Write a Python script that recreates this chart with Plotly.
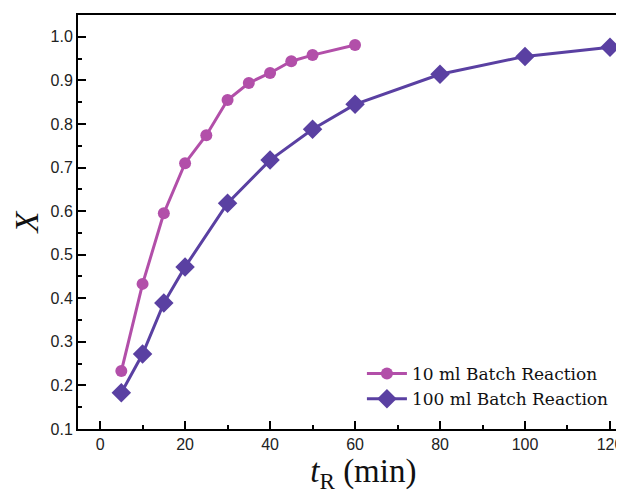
import plotly.graph_objects as go

t10 = [5, 10, 15, 20, 25, 30, 35, 40, 45, 50, 60]
x10 = [0.233, 0.433, 0.595, 0.710, 0.774, 0.855, 0.894, 0.917, 0.944, 0.958, 0.981]
t100 = [5, 10, 15, 20, 30, 40, 50, 60, 80, 100, 120]
x100 = [0.183, 0.272, 0.389, 0.472, 0.618, 0.717, 0.788, 0.845, 0.914, 0.955, 0.976]
names = ["10 ml Batch Reaction", "100 ml Batch Reaction"]

pink = "#B24FA9"
purple = "#5A40A2"

fig = go.Figure()
fig.add_trace(go.Scatter(x=t10, y=x10, name=names[0], mode="lines+markers",
                         line=dict(color=pink, width=3),
                         marker=dict(symbol="circle", size=12, color=pink)))
fig.add_trace(go.Scatter(x=t100, y=x100, name=names[1], mode="lines+markers",
                         line=dict(color=purple, width=3),
                         marker=dict(symbol="diamond", size=15, color=purple)))

axfont = dict(family="Liberation Sans, Arial", size=16, color="#222")
fig.update_layout(
    width=624, height=490,
    margin=dict(l=70, r=8, t=7, b=69),
    paper_bgcolor="white", plot_bgcolor="white",
    showlegend=True,
    legend=dict(x=0.52, y=0.029, xanchor="left", yanchor="bottom",
                font=dict(family="DejaVu Serif, Liberation Serif", size=17, color="#111"),
                bgcolor="rgba(0,0,0,0)", tracegroupgap=0, itemwidth=40),
    xaxis=dict(range=[-5.2, 123.3], tickvals=[0, 20, 40, 60, 80, 100, 120],
               automargin=False,
               showgrid=False, zeroline=False, showline=True, linecolor="black", linewidth=2,
               mirror=True, ticks="inside", ticklen=8, tickwidth=2, tickcolor="black",
               minor=dict(dtick=10, tick0=0, ticks="inside", ticklen=4, tickwidth=1.5, tickcolor="black"),
               tickfont=axfont,
               title=dict(text="&nbsp;&nbsp;&nbsp;<i>t</i><sub>R</sub> (min)", standoff=2,
                          font=dict(family="Liberation Serif, Times New Roman", size=33, color="#111"))),
    yaxis=dict(range=[0.1, 1.05], tickvals=[0.1, 0.2, 0.3, 0.4, 0.5, 0.6, 0.7, 0.8, 0.9, 1.0],
               ticktext=["0.1", "0.2", "0.3", "0.4", "0.5", "0.6", "0.7", "0.8", "0.9", "1.0"],
               automargin=False,
               showgrid=False, zeroline=False, showline=True, linecolor="black", linewidth=2,
               ticks="inside", ticklen=8, tickwidth=2, tickcolor="black",
               minor=dict(dtick=0.05, tick0=0.1, ticks="inside", ticklen=4, tickwidth=1.5, tickcolor="black"),
               tickfont=axfont,
               title=dict(text="<i>X</i>", standoff=4,
                          font=dict(family="Liberation Serif, Times New Roman", size=34, color="#111"))),
)

fig.write_html("out.html")
